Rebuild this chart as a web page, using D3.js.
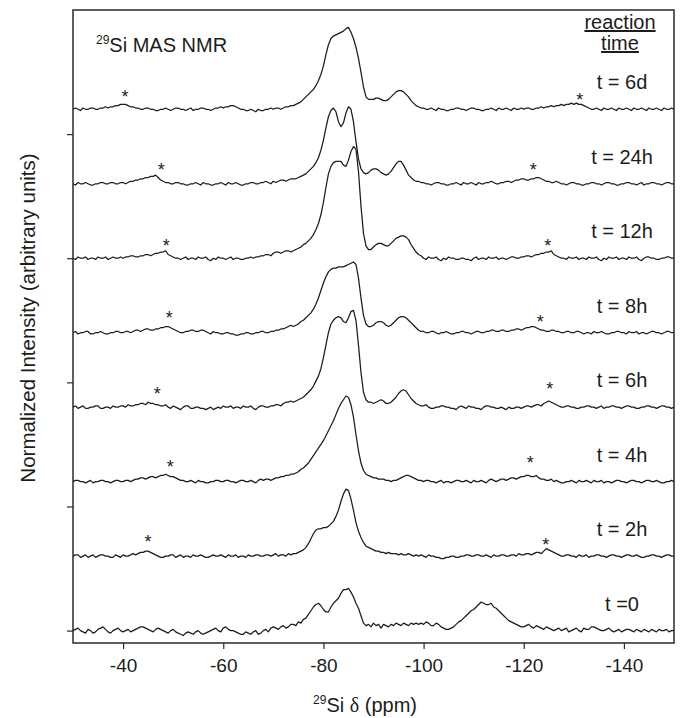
<!DOCTYPE html>
<html><head><meta charset="utf-8">
<script src="https://cdn.jsdelivr.net/npm/d3@7"></script>
<style>body{margin:0;background:#fff}svg{display:block}</style>
</head><body><svg id="c" width="685" height="718"></svg>
<script>
// ppm grid (x positions of the sampled points)
const ppmLeft = d3.range(-30, -74, -0.5);      // 88 points
const ppmPeak = d3.range(-74, -100, -0.5);     // 52 points
const ppmRight = d3.range(-100, -150.5, -0.5); // 101 points

const labels = ["t =0", "t = 2h", "t = 4h", "t = 6h", "t = 8h", "t = 12h", "t = 24h", "t = 6d"];
const offsets = [0, 60, 120, 180, 240, 300, 360, 420];
const xTicks = [-40, -60, -80, -100, -120, -140];
const yTicks = [0, 100, 200, 300, 400];
// spinning sideband markers: [ppm, height above baseline]
const starsLeft = [null, [-45.0, 15], [-49.4, 15], [-46.8, 14], [-49.2, 15], [-48.6, 13], [-47.6, 14], [-40.4, 13]];
const starsRight = [null, [-124.4, 12], [-121.3, 18], [-125.2, 18], [-123.3, 12], [-124.8, 13], [-121.9, 14], [-131.2, 11]];

// t = 0
const t0Left = [0,1,2,0,-1,-2,1,0,-2,-1,1,2,3,1,-1,-2,0,1,2,0, -1,0,1,-1,0,1,2,3,3,2,1,0,-1,1,2,1,0,-1,-2,0, 1,-1,-2,-3,-4,-2,-1,-2,-3,-1,0,-2,-3,-2,-1,0,1,2,0,-1, 2,3,1,0,0,-1,-2,-3,-3,-1,-2,-3,-1,0,-3,-2,0,1,-1,2, 3,2,1,3,4,2,3,5];
const t0Peak = [5,4,7,6,9,10,13,16,19,21, 22,20,17,15,15,19,22,24,26,30, 33,33,34,31,27,22,18,12,6,4, 5,3,6,4,5,2,5,4,3,5, 4,6,5,4,6,5,4,6,5,6, 5,6];
const t0Right = [5,7,6,4,4,6,5,3,2,1,1,2,3,5,7,8,10,12,14,16, 17,19,21,23,22,21,21,22,19,18,16,14,12,10,8,7,6,5,4,3, 3,4,5,3,2,4,3,2,1,3,2,1,0,1,2,0,1,2,-1,0, 1,2,0,-1,2,1,1,3,3,2,1,0,0,1,2,0,-1,0,1,-1, 0,1,1,0,-1,1,0,-1,1,0,-1,1,0,-1,1,0,0,1,-1,0, 0];
// t = 2h
const t2Left = [0,1,1,-1,0,1,-1,0,1,-1,0,1,1,0,0,-1,-1,1,0,-1, 1,0,0,1,2,1,2,3,3,4,4,3,2,1,0,-1,-1,0,0,1, 1,-1,0,1,-1,0,0,-1,1,0,0,1,0,-1,-1,0,1,0,0,1, 0,-1,1,0,0,1,-1,0,0,-1,1,0,0,1,1,0,0,1,1,0, 1,2,0,1,1,0,2,1];
const t2Peak = [2,2,3,4,5,7,10,14,18,21, 22,22,23,23,24,26,28,32,37,44, 50,54,53,46,37,27,20,15,11,8, 7,6,5,4,4,3,3,2,3,2, 2,2,1,2,1,1,2,1,0,1, 0,1];
const t2Right = [0,-1,1,0,0,-1,-1,-2,-2,-1,-1,0,0,-1,-1,0,0,1,1,0, 0,1,1,0,0,1,0,-1,1,0,0,1,1,0,0,1,1,0,2,1, 1,2,2,1,2,3,3,2,4,6,5,4,3,2,1,0,0,1,1,0, 0,-1,1,0,0,1,-1,0,0,1,1,0,0,-1,0,1,1,0,0,-1, 0,1,1,0,0,1,0,-1,-1,0,0,1,1,0,0,-1,0,1,1,0, 0];
// t = 4h
const t4Left = [0,1,1,0,0,-1,0,1,-1,0,0,1,1,0,0,-1,0,1,1,0, 0,1,1,0,1,2,2,3,3,2,3,4,4,3,4,5,5,6,5,4, 4,3,2,1,1,0,0,1,0,-1,1,0,0,-1,-1,0,0,1,1,0, 0,1,1,0,0,-1,0,1,1,0,0,1,0,-1,1,2,1,2,2,1, 2,3,3,4,4,5,5,6];
const t4Peak = [6,7,8,10,11,13,15,18,21,24, 27,30,33,37,41,45,49,54,59,63, 66,69,68,62,52,38,25,15,9,6, 5,4,3,3,2,2,2,1,1,0, 1,1,2,3,4,5,5,4,3,2, 1,1];
const t4Right = [0,1,1,0,0,-1,0,1,-1,0,0,-1,0,1,1,0,0,1,0,-1, 1,0,0,1,0,-1,1,2,1,0,1,2,2,1,2,3,3,2,3,4, 4,5,5,4,4,5,3,2,2,1,1,2,0,1,0,-1,-1,0,0,1, 0,-1,1,0,0,1,0,-1,1,0,0,1,-1,0,0,-1,0,1,1,0, 0,-1,0,1,1,0,0,-1,0,1,1,0,0,1,0,-1,-1,0,0,1, 0];
// t = 6h
const t6Left = [0,1,-1,0,1,-1,-1,0,0,1,1,-1,-1,0,0,-1,1,0,0,1, 1,0,2,1,1,2,2,3,3,2,4,3,3,2,2,1,1,2,0,-1, 1,0,-1,-2,0,1,1,-1,-1,0,0,-1,-1,-2,-1,0,-2,-1,0,-1, 1,0,0,1,-1,0,0,-1,1,0,0,1,-1,-2,0,1,1,0,0,1, 1,2,2,1,3,4,4,5];
const t6Peak = [4,5,6,7,8,10,12,14,17,21, 25,31,40,50,60,67,70,72,73,72, 69,68,72,77,78,70,50,28,12,6, 4,4,3,4,5,6,5,3,3,4, 6,8,11,13,14,13,10,7,5,3, 2,1];
const t6Right = [1,2,0,-1,-1,0,0,1,1,0,0,-1,-1,-2,0,1,0,-1,1,0, 0,-1,-1,-2,0,1,1,0,0,-1,-1,0,-1,-2,0,-1,-1,0,0,-1, 0,1,1,0,1,2,2,1,3,4,5,4,3,2,1,0,0,1,1,0, 0,-1,-1,0,0,1,1,0,0,-1,0,1,-1,0,0,1,1,0,0,-1, 0,1,1,0,0,-1,-1,0,0,1,1,0,0,-1,0,1,1,0,0,-1, 0];
// t = 8h
const t8Left = [0,1,-1,0,0,1,1,-1,-1,0,0,1,0,-1,-1,0,0,1,1,0, 0,1,1,0,1,2,2,1,2,3,3,2,2,3,3,4,4,5,5,4, 3,2,1,0,0,1,1,2,2,1,1,2,2,1,0,-1,1,0,0,-1, -1,0,0,-1,-1,-2,-2,-1,-1,0,0,-1,-1,0,0,1,1,0,0,1, 1,2,2,3,3,4,5,6];
const t8Peak = [5,6,7,9,10,12,14,16,19,23, 28,34,40,45,49,51,52,52,53,53, 53,54,55,56,57,55,44,28,14,7, 5,5,6,8,9,9,8,6,5,6, 8,10,12,13,13,12,10,8,6,4, 2,1];
const t8Right = [1,0,0,1,1,0,-1,0,0,1,0,-1,-1,0,0,1,1,0,0,-1, 0,1,1,0,0,1,1,2,2,1,1,2,2,1,1,2,2,3,3,2, 3,4,4,5,5,4,3,2,2,1,1,2,2,1,1,0,0,1,1,0, 0,1,1,0,-1,0,0,-1,1,0,0,1,0,-1,-1,0,0,1,1,0, 0,-1,1,0,0,1,-1,0,0,-1,0,1,1,0,0,-1,0,1,1,0, 0];
// t = 12h
const t12Left = [0,-1,1,0,0,1,-1,0,0,-1,1,0,0,1,-1,0,1,0,0,1, 0,1,1,2,2,1,1,2,2,3,3,2,3,4,4,5,5,6,3,2, 1,0,0,-1,0,1,-1,0,0,-1,1,0,0,1,-1,-2,0,-1,1,0, 0,-1,0,1,-1,0,0,-1,-1,0,0,1,0,1,1,2,2,3,3,2, 4,5,5,4,5,6,6,5];
const t12Peak = [6,7,8,9,11,12,14,16,19,23, 28,35,45,57,68,74,77,78,78,78, 75,74,79,86,90,88,70,42,20,10, 7,7,9,11,12,12,11,10,10,12, 14,16,17,18,18,17,15,11,8,5, 3,2];
const t12Right = [0,-1,1,0,0,1,-1,-2,0,-1,1,0,0,-1,-1,0,0,-1,-1,-2, 0,1,-1,0,0,-1,1,0,0,1,-1,0,0,-1,0,1,1,0,0,1, 1,2,2,1,2,3,3,4,4,5,5,6,3,2,1,0,0,-1,1,0, 0,1,-1,0,0,-1,1,0,0,1,-1,-2,0,-1,1,0,0,1,-1,0, 0,-1,1,0,0,1,-1,-2,0,1,1,0,0,-1,-1,0,0,1,1,0, 0];
// t = 24h
const t24Left = [0,-1,1,0,0,1,0,-1,-1,0,0,1,1,0,0,1,1,0,0,1, 1,0,1,2,2,3,3,4,4,5,5,6,6,7,5,3,2,1,1,0, 0,1,1,0,0,-1,-1,0,0,1,0,-1,1,0,0,-1,-1,0,0,1, 0,-1,1,0,0,1,0,-1,-1,0,0,1,1,0,0,1,1,2,1,0, 2,1,2,3,3,2,3,4];
const t24Peak = [4,4,5,6,7,8,10,12,14,17, 21,27,35,45,54,59,61,58,50,46, 49,57,62,60,50,34,20,12,9,8, 9,11,12,12,11,9,8,7,8,10, 13,16,18,18,15,11,7,5,3,2, 2,1];
const t24Right = [1,0,0,-1,0,1,1,0,0,-1,-1,0,0,1,0,-1,1,0,0,1, 0,-1,1,0,0,1,1,2,1,0,0,1,1,2,2,1,2,3,3,4, 4,3,3,4,4,5,5,4,3,2,2,1,1,2,1,0,0,-1,0,1, 1,0,0,-1,-1,0,0,1,1,0,0,-1,0,1,1,0,0,-1,-1,0, 0,1,1,0,0,-1,0,1,-1,0,0,1,1,0,0,-1,0,1,1,0, 0];
// t = 6d
const t6dLeft = [0,1,0,-1,1,0,0,1,1,0,0,1,1,2,1,2,2,3,3,4, 4,4,3,2,2,1,1,0,0,1,1,0,0,-1,-1,0,0,1,0,-1, 0,1,1,0,0,-1,0,1,-1,0,0,1,1,0,0,-1,0,1,1,2, 1,2,2,3,3,2,1,0,0,-1,-1,0,-1,-2,0,-1,-1,0,0,1, 0,1,1,0,1,2,2,3];
const t6dPeak = [3,4,5,6,8,10,12,14,16,19, 23,28,35,44,52,57,59,60,61,62, 63,65,66,62,57,50,41,30,18,10, 8,8,8,9,9,8,7,7,8,10, 12,14,15,15,14,12,10,7,5,3, 2,1];
const t6dRight = [1,0,0,1,0,-1,1,0,0,-1,-1,0,0,1,1,0,0,-1,0,1, 1,0,0,-1,-1,0,0,1,0,-1,1,0,0,1,0,-1,1,0,0,1, 0,1,1,0,0,1,1,2,1,2,2,3,2,3,3,4,3,4,4,5, 4,5,4,4,3,2,1,0,0,1,0,-1,1,0,0,1,0,-1,1,0, 0,1,0,-1,1,0,0,1,0,-1,1,0,0,1,0,-1,1,0,0,1, 0];

const spectraParts = [
  [t0Left, t0Peak, t0Right], [t2Left, t2Peak, t2Right], [t4Left, t4Peak, t4Right],
  [t6Left, t6Peak, t6Right], [t8Left, t8Peak, t8Right], [t12Left, t12Peak, t12Right],
  [t24Left, t24Peak, t24Right], [t6dLeft, t6dPeak, t6dRight]
];

const svg = d3.select("#c");
const M = {l: 73, r: 674, t: 10, b: 643};
const x = d3.scaleLinear().domain([-30, -150]).range([M.l, M.r]);
const y = d3.scaleLinear().domain([-10, 500]).range([M.b, M.t]);
const FONT = "'Liberation Sans', Arial, sans-serif";
const ink = "#1c1c1c";

// spectra
const line = d3.line().x(d => x(d[0])).y(d => y(d[1]));
spectraParts.forEach((parts, i) => {
  const pts = [];
  [ppmLeft, ppmPeak, ppmRight].forEach((g, k) => g.forEach((p, j) => {
    if (parts[k][j] !== undefined) pts.push([p, parts[k][j] + offsets[i]]);
  }));
  svg.append("path").datum(pts).attr("d", line)
    .attr("fill", "none").attr("stroke", ink).attr("stroke-width", 1.25).attr("stroke-linejoin", "round");
  svg.append("text").attr("x", 622).attr("y", y(offsets[i]) - 20)
    .attr("text-anchor", "middle").attr("font-family", FONT).attr("font-size", 20).attr("fill", ink)
    .text(labels[i]);
  [starsLeft[i], starsRight[i]].forEach(s => {
    if (!s) return;
    svg.append("text").attr("x", x(s[0])).attr("y", y(offsets[i] + s[1]) + 10)
      .attr("text-anchor", "middle").attr("font-family", FONT).attr("font-size", 18).attr("fill", ink).text("*");
  });
});

// frame
svg.append("rect").attr("x", M.l).attr("y", M.t).attr("width", M.r - M.l).attr("height", M.b - M.t)
  .attr("fill", "none").attr("stroke", "#2a2a2a").attr("stroke-width", 1.5);

// axes
const gx = svg.append("g").attr("transform", `translate(0,${M.b})`)
  .call(d3.axisBottom(x).tickValues(xTicks).tickSize(6).tickPadding(10).tickFormat(d => String(d)));
gx.select(".domain").remove();
gx.selectAll("line").attr("stroke", "#2a2a2a").attr("stroke-width", 1.2);
gx.selectAll("text").attr("font-family", FONT).attr("font-size", 19).attr("fill", ink);

const gy = svg.append("g").attr("transform", `translate(${M.l},0)`)
  .call(d3.axisLeft(y).tickValues(yTicks).tickSize(6).tickFormat(""));
gy.select(".domain").remove();
gy.selectAll("line").attr("stroke", "#2a2a2a").attr("stroke-width", 1.2);

// axis titles
const xt = svg.append("text").attr("x", 365).attr("y", 712).attr("text-anchor", "middle")
  .attr("font-family", FONT).attr("font-size", 20).attr("fill", ink);
xt.append("tspan").attr("font-size", 12).attr("dy", -8).text("29");
xt.append("tspan").attr("dy", 8).text("Si ");
xt.append("tspan").attr("font-family", "'Liberation Serif', serif").text("\u03B4");
xt.append("tspan").text(" (ppm)");

svg.append("text").attr("transform", "translate(35,318) rotate(-90)").attr("text-anchor", "middle")
  .attr("font-family", FONT).attr("font-size", 20.5).attr("fill", ink)
  .text("Normalized Intensity (arbitrary units)");

// annotations
const ann = svg.append("text").attr("x", 96).attr("y", 51.5).attr("font-family", FONT).attr("font-size", 20).attr("fill", ink);
ann.append("tspan").attr("font-size", 12).attr("dy", -8).text("29");
ann.append("tspan").attr("dy", 8).text("Si MAS NMR");

svg.append("text").attr("x", 620).attr("y", 29).attr("text-anchor", "middle")
  .attr("font-family", FONT).attr("font-size", 20).attr("fill", ink).attr("text-decoration", "underline").text("reaction");
svg.append("text").attr("x", 620).attr("y", 50).attr("text-anchor", "middle")
  .attr("font-family", FONT).attr("font-size", 20).attr("fill", ink).attr("text-decoration", "underline").text("time");
</script>
</body></html>
